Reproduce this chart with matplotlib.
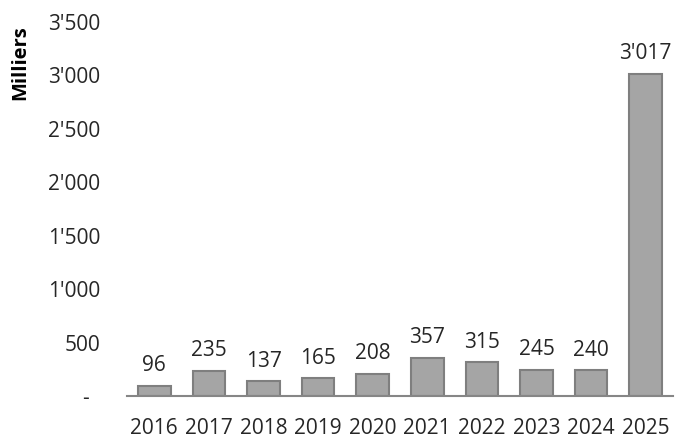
import matplotlib
matplotlib.use("Agg")
import matplotlib.pyplot as plt
from matplotlib.ticker import FixedLocator

years = ["2016", "2017", "2018", "2019", "2020", "2021", "2022", "2023", "2024", "2025"]
values = [96, 235, 137, 165, 208, 357, 315, 245, 240, 3017]
yticks = [0, 500, 1000, 1500, 2000, 2500, 3000, 3500]
ytick_labels = ["-  ", "500", "1'000", "1'500", "2'000", "2'500", "3'000", "3'500"]

plt.rcParams['font.family'] = ['Open Sans', 'DejaVu Sans']

fig = plt.figure(figsize=(6.78, 4.44), dpi=100)
ax = fig.add_axes([127/678, 48/444, 546/678, 374/444])

x = list(range(len(years)))
ax.bar(x, values, width=0.6, color="#A5A5A5", edgecolor="#7F7F7F", linewidth=1.5, zorder=2)

def fmt(v):
    return f"{v:,}".replace(",", "'")

for xi, v in zip(x, values):
    ax.annotate(fmt(v), (xi, v), xytext=(0, 7), textcoords="offset points",
                ha="center", va="bottom", fontsize=15, color="#262626")

ax.set_xlim(-0.5, len(years) - 0.5)
ax.set_ylim(0, 3500)
ax.set_xticks(x)
ax.set_xticklabels(years, fontsize=15, color="#262626")
ax.yaxis.set_major_locator(FixedLocator(yticks))
ax.set_yticklabels(ytick_labels, fontsize=15, color="#262626")
ax.tick_params(axis="both", length=0)
ax.tick_params(axis="y", pad=19)
ax.tick_params(axis="x", pad=16)

for s in ["top", "right", "left"]:
    ax.spines[s].set_visible(False)
ax.spines["bottom"].set_color("#868686")
ax.spines["bottom"].set_linewidth(1.5)

fig.text(20/678, 1 - 63/444, "Milliers", rotation=90, ha="center", va="center",
         fontsize=14.5, fontweight="bold", color="#000000")

fig.savefig("out.png", dpi=100)
